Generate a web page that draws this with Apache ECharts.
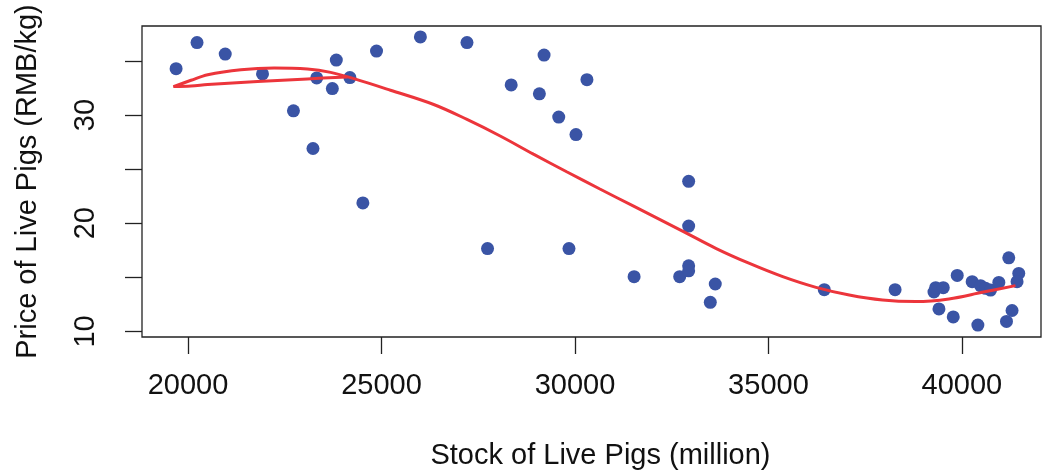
<!DOCTYPE html>
<html>
<head>
<meta charset="utf-8">
<script src="https://cdn.jsdelivr.net/npm/echarts@6/dist/echarts.min.js"></script>
<style>html,body{margin:0;padding:0;background:#fff}#c{width:1043px;height:475px}</style>
</head>
<body>
<div id="c"></div>
<script>
const xTicks = [20000, 25000, 30000, 35000, 40000];
const yTicks = [10, 15, 20, 25, 30, 35];
const yLabels = [10, 20, 30];
const xTitle = 'Stock of Live Pigs (million)';
const yTitle = 'Price of Live Pigs (RMB/kg)';

// observed points [stock, price]
const points = [
  [19691,34.29],[20232,36.71],[20961,35.64],[21925,33.81],[23325,33.44],[23832,35.09],
  [23729,32.45],[24183,33.47],[24871,35.92],[26005,37.23],[22724,30.40],[23229,26.91],
  [24518,21.88],[27209,36.71],[29201,35.55],[28351,32.79],[29080,31.97],[30309,33.28],
  [29580,29.82],[30026,28.2],[32938,23.88],[32938,19.74],[27740,17.66],[29845,17.66],
  [31528,15.06],[32706,15.06],[32938,16.07],[32938,15.6],[33626,14.38],[33497,12.69],
  [36443,13.86],[38273,13.86],[39278,13.64],[39322,14.04],[39518,14.04],[39879,15.17],
  [39407,12.08],[39776,11.34],[40265,14.6],[40482,14.23],[40610,13.98],[40740,13.82],
  [40954,14.53],[40412,10.58],[41211,16.8],[41469,15.36],[41425,14.6],[41296,11.93],
  [41152,10.92]
];

// fitted curve, in drawing order
const fitted = [
  [24116,33.53],[23085,33.35],[21796,33.10],[20508,32.82],[20078,32.70],[19621,32.64],
  [20078,33.22],[20508,33.74],[21366,34.20],[22224,34.36],[23085,34.26],[23686,33.95],
  [24286,33.37],[25232,32.30],[26349,30.98],[27209,29.60],[28067,28.07],[28926,26.39],
  [29785,24.76],[30644,23.17],[31503,21.60],[32792,19.25],[33652,17.66],[34510,16.28],
  [35369,15.06],[36229,14.07],[37088,13.36],[37948,12.90],[38807,12.76],[39665,13.00],
  [40523,13.61],[41384,14.23]
];

const FONT = 'Liberation Sans, Arial, Helvetica, sans-serif';
const chart = echarts.init(document.getElementById('c'), null, {renderer: 'canvas'});
chart.setOption({
  animation: false,
  backgroundColor: '#fff',
  grid: {left: 142, top: 26, right: 2, bottom: 136, show: true, borderColor: '#222', borderWidth: 1.3, backgroundColor: 'transparent'},
  xAxis: {
    type: 'value', min: 18810, max: 42044,
    name: xTitle, nameLocation: 'middle', nameGap: 104,
    nameTextStyle: {fontFamily: FONT, fontSize: 29, color: '#111', padding: [0, 0, 0, 18]},
    axisLine: {show: false},
    splitLine: {show: false},
    axisTick: {show: true, length: 17, inside: false, customValues: xTicks, lineStyle: {color: '#222', width: 1.3}},
    axisLabel: {customValues: xTicks, margin: 34, fontFamily: FONT, fontSize: 29, color: '#111', formatter: v => String(v)}
  },
  yAxis: {
    type: 'value', min: 9.48, max: 38.24,
    name: yTitle, nameLocation: 'middle', nameGap: 100,
    nameTextStyle: {fontFamily: FONT, fontSize: 29, color: '#111'},
    axisLine: {show: false},
    splitLine: {show: false},
    axisTick: {show: true, length: 17, inside: false, customValues: yTicks, lineStyle: {color: '#222', width: 1.3}},
    axisLabel: {customValues: yLabels, rotate: 90, margin: 42, fontFamily: FONT, fontSize: 29, color: '#111', formatter: v => String(v)}
  },
  series: [
    {
      type: 'scatter', data: points, symbol: 'circle', symbolSize: 13,
      itemStyle: {color: '#3a54a5', opacity: 1}, z: 2
    },
    {
      type: 'line', data: fitted, smooth: 0.35, showSymbol: false, symbol: 'none',
      lineStyle: {color: '#ec353b', width: 3}, z: 3
    }
  ]
});
</script>
</body>
</html>
